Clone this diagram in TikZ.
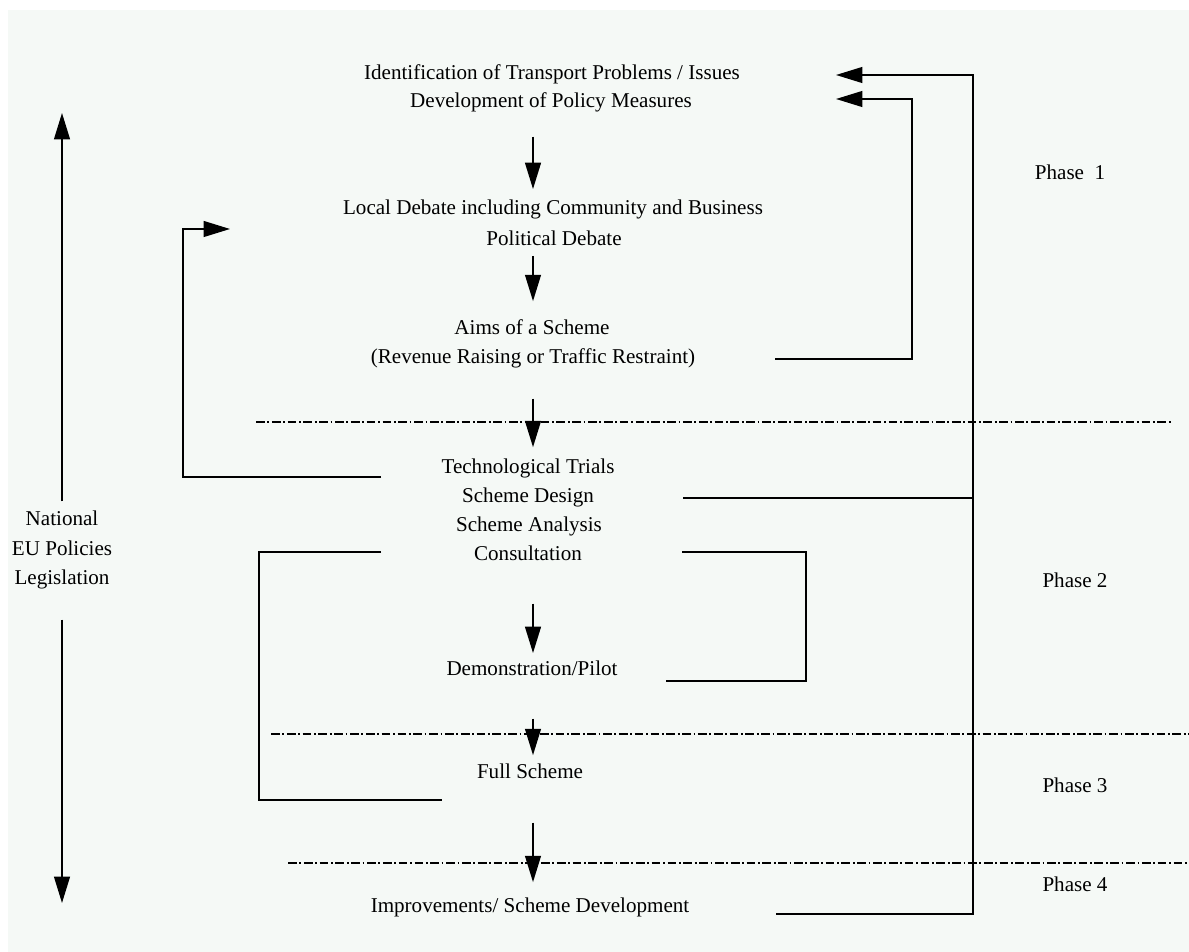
\documentclass[tikz,border=0pt]{standalone}
\usepackage{fontspec}
\setmainfont{Liberation Serif}
\usetikzlibrary{arrows.meta}
\definecolor{paper}{RGB}{245,249,246}

\begin{document}
\begin{tikzpicture}[x=0.02cm,y=-0.02cm,line width=1pt,
	txt/.style={inner sep=0pt,text height=10.5pt,text depth=2.5pt,font=\fontsize{12}{16.7}\selectfont},
	flow/.style={-{Triangle[length=15pt,width=9pt]}},
	phaseline/.style={line width=1.2pt,dash pattern=on 5pt off 1.5pt on 1pt off 1.5pt}]
	\useasboundingbox (0,0) rectangle (1189,952);
	\fill[white] (0,0) rectangle (1189,952);
	\fill[paper] (8,10) rectangle (1189,952);
	% text column
	\node[txt] (ident) at (552,72) {Identification of Transport Problems / Issues};
	\node[txt] (policy) at (551,100) {Development of Policy Measures};
	\node[txt] (local) at (553,207) {Local Debate including Community and Business};
	\node[txt] (political) at (554,238) {Political Debate};
	\node[txt] (aims) at (532,327) {Aims of a Scheme};
	\node[txt] (revenue) at (533,356) {(Revenue Raising or Traffic Restraint)};
	\node[txt] (trials) at (528,466) {Technological Trials};
	\node[txt] (design) at (528,495) {Scheme Design};
	\node[txt] (analysis) at (529,524) {Scheme Analysis};
	\node[txt] (consult) at (528,553) {Consultation};
	\node[txt] (demo) at (532,668) {Demonstration/Pilot};
	\node[txt] (full) at (530,771) {Full Scheme};
	\node[txt] (improve) at (530,905) {Improvements/ Scheme Development};
	% phases
	\node[txt] (phase1) at (1070,172) {Phase\ \ 1};
	\node[txt] (phase2) at (1075,580) {Phase 2};
	\node[txt] (phase3) at (1075,785) {Phase 3};
	\node[txt] (phase4) at (1075,884) {Phase 4};
	\node[inner sep=0pt,align=center,font=\fontsize{12}{16.7}\selectfont] (eu) at (62,550) {National\\EU Policies\\Legislation};
	% phase borders
	\draw[phaseline] (256,422) -- (1172,422);
	\draw[phaseline] (271,734) -- (1189,734);
	\draw[phaseline] (288,863) -- (1189,863);
	% main flow
	\coordinate (spine) at (533,0);
	\draw[flow,shorten <=13.8pt,shorten >=3.2pt] (policy.south -| spine) -- (local.north -| spine);
	\draw[flow,shorten <=3.2pt,shorten >=7.7pt] (political.south -| spine) -- (aims.north -| spine);
	\draw[flow,shorten <=17.3pt,shorten >=3.7pt] (revenue.south -| spine) -- (trials.north -| spine);
	\draw[flow,shorten <=21.8pt,shorten >=1.5pt] (consult.south -| spine) -- (demo.north -| spine);
	\draw[flow,shorten <=21.8pt,shorten >=2pt] (demo.south -| spine) -- (full.north -| spine);
	\draw[flow,shorten <=22.4pt,shorten >=6pt] (full.south -| spine) -- (improve.north -| spine);
	% national / EU arrows
	\coordinate (euTop) at (62,113);
	\coordinate (euBot) at (62,903);
	\draw[flow,shorten <=5pt] (eu.north) -- (euTop);
	\draw[flow,shorten <=17pt] (eu.south) -- (euBot);
	% feedback loops
	\coordinate (impOut) at (776,914);
	\coordinate (bigR) at (973,75);
	\coordinate (identIn) at (836,75);
	\draw[flow] (impOut) -| (bigR) -- (identIn);
	\coordinate (designOut) at (683,498);
	\draw (designOut) -- (designOut -| bigR);
	\coordinate (aimsOut) at (775,359);
	\coordinate (midR) at (912,99);
	\coordinate (policyIn) at (836,99);
	\draw[flow] (aimsOut) -| (midR) -- (policyIn);
	\coordinate (trialsOut) at (381,477);
	\coordinate (leftA) at (183,229);
	\coordinate (localIn) at (230,229);
	\draw[flow] (trialsOut) -| (leftA) -- (localIn);
	\coordinate (consultL) at (381,552);
	\coordinate (leftB) at (259,800);
	\coordinate (fullIn) at (442,800);
	\draw (consultL) -| (leftB) -- (fullIn);
	\coordinate (consultR) at (682,552);
	\coordinate (rightB) at (806,681);
	\coordinate (demoIn) at (666,681);
	\draw (consultR) -| (rightB) -- (demoIn);
\end{tikzpicture}
\end{document}
